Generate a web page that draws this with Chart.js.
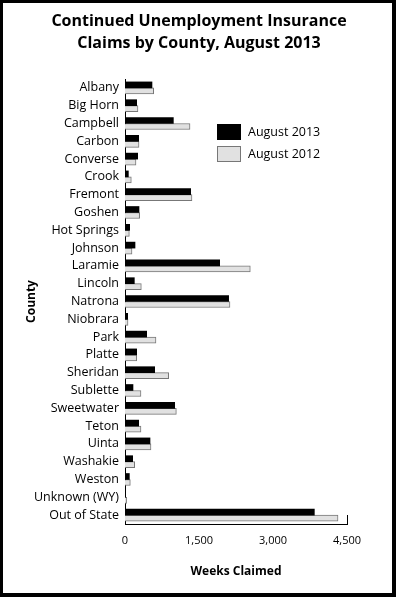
<!DOCTYPE html>
<html>
<head>
<meta charset="utf-8">
<script src="https://cdn.jsdelivr.net/npm/chart.js@4/dist/chart.umd.min.js"></script>
<style>
html,body{margin:0;padding:0;background:#fff;}
#wrap{width:396px;height:597px;position:relative;}
canvas{display:block;}
</style>
</head>
<body>
<div id="wrap"><canvas id="c" width="396" height="597"></canvas></div>
<script>
const counties = ["Albany","Big Horn","Campbell","Carbon","Converse","Crook","Fremont","Goshen","Hot Springs","Johnson","Laramie","Lincoln","Natrona","Niobrara","Park","Platte","Sheridan","Sublette","Sweetwater","Teton","Uinta","Washakie","Weston","Unknown (WY)","Out of State"];
const aug2013 = [547,236,980,277,257,68,1331,284,95,203,1919,189,2101,54,439,236,601,162,1007,277,507,155,88,5,3838];
const aug2012 = [581,263,1318,284,223,128,1358,297,88,142,2540,331,2128,61,628,236,885,324,1041,324,527,196,108,34,4318];
const xTicks = [0,1500,3000,4500];
const titleLines = ["Continued Unemployment Insurance","Claims by County, August 2013"];
const seriesNames = ["August 2013","August 2012"];

const FONT = "'Open Sans', 'DejaVu Sans', sans-serif";

const framePlugin = {
  id:'frame',
  afterDraw(chart){
    const ctx = chart.ctx, W = chart.width, H = chart.height;
    ctx.save();
    ctx.fillStyle = '#000';
    ctx.fillRect(0,0,W,3);
    ctx.fillRect(0,0,3,H);
    ctx.fillRect(W-4,0,4,H);
    ctx.fillRect(0,H-4,W,4);
    // small end tick at right of x axis
    const xs = chart.scales.x;
    const xr = Math.round(xs.getPixelForValue(xs.max)) + 0.5;
    ctx.strokeStyle = '#000';
    ctx.lineWidth = 1;
    ctx.beginPath();
    ctx.moveTo(xr, chart.chartArea.bottom - 9);
    ctx.lineTo(xr, chart.chartArea.bottom);
    ctx.stroke();
    ctx.restore();
  }
};

const titlePlugin = {
  id:'centerTitle',
  afterDraw(chart){
    const ctx = chart.ctx;
    ctx.save();
    ctx.fillStyle = '#000';
    ctx.font = "bold 16px " + FONT;
    ctx.textAlign = 'center';
    ctx.textBaseline = 'middle';
    ctx.fillText(titleLines[0], 199, 21);
    ctx.fillText(titleLines[1], 199, 43);
    ctx.restore();
  }
};

const legendPlugin = {
  id:'insideLegend',
  afterDraw(chart){
    const ctx = chart.ctx;
    ctx.save();
    const x0 = 217, ys = [124, 146];
    chart.data.datasets.forEach((ds,i)=>{
      ctx.fillStyle = ds.backgroundColor;
      ctx.fillRect(x0, ys[i], 24, 16);
      ctx.strokeStyle = ds.borderColor;
      ctx.lineWidth = 1;
      ctx.strokeRect(x0+0.5, ys[i]+0.5, 23, 15);
      ctx.fillStyle = '#000';
      ctx.font = "12.5px " + FONT;
      ctx.textBaseline = 'middle';
      ctx.textAlign = 'left';
      ctx.fillText(ds.label, x0+31, ys[i]+8);
    });
    ctx.restore();
  }
};

new Chart(document.getElementById('c'), {
  type:'bar',
  data:{
    labels: counties,
    datasets:[
      {label: seriesNames[0], data: aug2013, backgroundColor:'#000000', borderColor:'#000000', borderWidth:0, barThickness:6},
      {label: seriesNames[1], data: aug2012, backgroundColor:'#e1e1e1', borderColor:'#777777', borderWidth:1, barThickness:6}
    ]
  },
  options:{
    indexAxis:'y',
    responsive:false,
    animation:false,
    devicePixelRatio:1,
    layout:{padding:{left:24,right:49,top:79,bottom:18}},
    plugins:{
      legend:{display:false},
      tooltip:{enabled:false},
      title:{display:false}
    },
    scales:{
      x:{
        min:0,max:4500,
        afterBuildTicks(scale){ scale.ticks = xTicks.map(v=>({value:v})); },
        grid:{display:false,drawTicks:false},
        border:{display:true,color:'#000',width:1},
        ticks:{color:'#000',font:{family:FONT,size:11},padding:10,
          callback:(v)=>v.toLocaleString('en-US')},
        title:{display:true,text:'Weeks Claimed',color:'#000',font:{family:FONT,size:12,weight:'bold'},padding:{top:0,bottom:0}},
        afterFit(scale){ scale.height = 55; }
      },
      y:{
        grid:{display:false,drawTicks:false},
        border:{display:true,color:'#000',width:1},
        ticks:{color:'#000',font:{family:FONT,size:12.5},padding:6,autoSkip:false},
        title:{display:true,text:'County',color:'#000',font:{family:FONT,size:12,weight:'bold'},padding:{top:0,bottom:0}},
        afterFit(scale){ scale.width = 101; }
      }
    }
  },
  plugins:[legendPlugin, titlePlugin, framePlugin]
});
</script>
</body>
</html>
